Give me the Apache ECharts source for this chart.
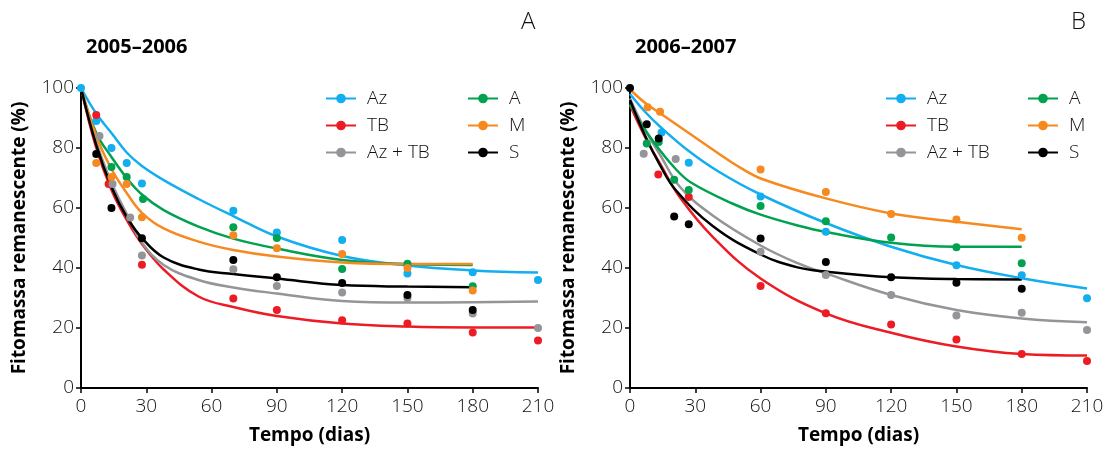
<!DOCTYPE html>
<html>
<head>
<meta charset="utf-8">
<script src="https://cdn.jsdelivr.net/npm/echarts@6/dist/echarts.min.js"></script>
<style>
  html, body { margin: 0; padding: 0; background: #fff; }
  #chart { width: 1118px; height: 450px; }
</style>
</head>
<body>
<div id="chart"></div>
<script>
// tratamentos e cores
const names = ['Az', 'TB', 'Az + TB', 'A', 'M', 'S']
const colors = ['#12aeef', '#ed1c24', '#939598', '#00a24f', '#f6891f', '#000000']
const xTicks = [0, 30, 60, 90, 120, 150, 180, 210]
const yTicks = [0, 20, 40, 60, 80, 100]

// 2005–2006: pontos observados [dia, %]
const dotsA_Az = [[0, 100], [7, 89], [14, 80], [21, 75], [28, 68.2], [70, 59.1], [90, 51.8], [120, 49.3], [150, 38.2], [180, 38.6], [210, 36]]
const dotsA_TB = [[7, 91], [12.7, 68], [28, 41.1], [70, 29.8], [90, 26], [120, 22.6], [150, 21.5], [180, 18.5], [210, 15.8]]
const dotsA_AzTB = [[8.5, 84], [14.5, 68], [22.6, 56.8], [28, 44.2], [70, 39.6], [90, 34], [120, 31.8], [150, 30], [180, 24.8], [210, 20]]
const dotsA_A = [[14, 73.7], [21, 70.3], [28.5, 63], [70, 53.6], [90, 50], [120, 39.7], [150, 41.4], [180, 33.9]]
const dotsA_M = [[7, 75], [14, 70.3], [21, 68], [28, 56.9], [70, 50.9], [90, 46.6], [120, 44.7], [150, 40], [180, 32.5]]
const dotsA_S = [[7, 78], [14, 60], [28, 49.9], [70, 42.7], [90, 36.9], [120, 35], [150, 31], [180, 26]]

// 2005–2006: curvas ajustadas
const curveA_Az = [[0, 100], [7, 91.5], [14, 85], [21, 78.5], [28, 74], [38, 69.3], [54, 63], [70, 57.3], [90, 50.5], [120, 44], [150, 40.8], [180, 39.2], [210, 38.5]]
const curveA_TB = [[0, 100], [7, 80], [14, 66], [21, 56], [28, 48], [38, 39.5], [54, 30.5], [70, 27], [90, 24], [120, 21.5], [150, 20.5], [180, 20.2], [210, 20.2]]
const curveA_AzTB = [[0, 100], [7, 82], [14, 68.5], [21, 58], [28, 48.5], [38, 41], [54, 36], [70, 33.5], [90, 31.5], [120, 29], [150, 28.5], [180, 28.6], [210, 28.8]]
const curveA_A = [[0, 100], [7, 85], [14, 77], [21, 70], [28, 64.5], [38, 59.3], [54, 53.8], [70, 49.8], [90, 46.5], [120, 42.7], [150, 41.3], [180, 41]]
const curveA_M = [[0, 100], [7, 84], [14, 73], [21, 65], [28, 58.4], [38, 53.2], [54, 48.8], [70, 46], [90, 43.8], [120, 41.8], [150, 41.3], [180, 41.3]]
const curveA_S = [[0, 100], [7, 81], [14, 67], [21, 57], [28, 50], [38, 43.5], [54, 39.5], [70, 38], [90, 36.5], [120, 34.3], [150, 33.8], [180, 33.6]]

// 2006–2007: pontos observados
const dotsB_Az = [[14.5, 85.2], [27, 75.1], [60, 63.8], [90, 52.1], [150, 40.9], [180, 37.6], [210, 29.9]]
const dotsB_TB = [[13, 71.2], [27, 63.7], [60, 34], [90, 24.9], [120, 21.2], [150, 16.2], [180, 11.3], [210, 9]]
const dotsB_AzTB = [[6.3, 78.1], [21, 76.3], [60, 45.4], [90, 37.7], [120, 31], [150, 24.2], [180, 25.1], [210, 19.3]]
const dotsB_A = [[7.7, 81.5], [13.2, 82], [20.3, 69.4], [27, 66], [60, 60.7], [90, 55.6], [120, 50.2], [150, 46.9], [180, 41.6]]
const dotsB_M = [[8.1, 93.6], [13.8, 92.1], [60, 72.8], [90, 65.3], [120, 58], [150, 56.2], [180, 50.1]]
const dotsB_S = [[0, 100], [7.7, 87.9], [13.2, 83.2], [20.3, 57.2], [27, 54.6], [60, 49.8], [90, 42], [120, 36.9], [150, 35.1], [180, 33.1]]

// 2006–2007: curvas ajustadas
const curveB_Az = [[0, 98], [7, 92], [14, 87], [27, 79], [41, 72], [60, 64.5], [90, 55], [120, 47.1], [150, 41], [180, 36.6], [210, 33.2]]
const curveB_TB = [[0, 94.3], [7, 83.5], [14, 74.5], [23, 63.5], [38, 50.4], [60, 36.5], [90, 24.9], [120, 18.4], [150, 13.8], [180, 11.3], [210, 10.8]]
const curveB_AzTB = [[0, 96.5], [7, 86], [14, 77.5], [23, 67], [38, 57.5], [60, 47.5], [77, 41.6], [90, 38.2], [120, 31], [150, 26], [180, 23.2], [210, 21.9]]
const curveB_A = [[0, 94.5], [7, 86], [14, 79], [21, 73], [28, 68.5], [47, 61.5], [60, 57.8], [78, 54], [90, 52], [120, 48.4], [150, 47.1], [180, 47.1]]
const curveB_M = [[0, 99.5], [7, 95], [14, 91.5], [26, 85.5], [41, 78], [51, 73.3], [61, 69.6], [90, 63.2], [120, 58.2], [150, 55.4], [180, 52.9]]
const curveB_S = [[0, 96], [7, 84], [14, 74], [21, 66], [38, 54], [60, 44.5], [77, 40.2], [90, 38.8], [120, 36.9], [150, 36.3], [180, 36.2]]

const dotsA = [dotsA_Az, dotsA_TB, dotsA_AzTB, dotsA_A, dotsA_M, dotsA_S]
const curvesA = [curveA_Az, curveA_TB, curveA_AzTB, curveA_A, curveA_M, curveA_S]
const dotsB = [dotsB_Az, dotsB_TB, dotsB_AzTB, dotsB_A, dotsB_M, dotsB_S]
const curvesB = [curveB_Az, curveB_TB, curveB_AzTB, curveB_A, curveB_M, curveB_S]

const FONT = "'Open Sans', 'Noto Sans', sans-serif"
const chart = echarts.init(document.getElementById('chart'), null, { renderer: 'canvas' })

function makeAxes(i) {
  const common = {
    gridIndex: i,
    min: 0,
    axisLine: { lineStyle: { color: '#000', width: 2 } },
    axisTick: { show: true, length: 5, lineStyle: { color: '#000', width: 1.5 } },
    splitLine: { show: false },
    axisLabel: { fontSize: 19, color: '#111', fontFamily: FONT, fontWeight: 300 },
    nameLocation: 'middle',
    nameTextStyle: { fontSize: 19, fontWeight: 'bold', color: '#000', fontFamily: FONT }
  }
  return {
    x: { ...common, type: 'value', max: 210, interval: 30, name: 'Tempo (dias)', nameGap: 38,
      axisLabel: { ...common.axisLabel, margin: 9 } },
    y: { ...common, type: 'value', max: 100, interval: 20, name: 'Fitomassa remanescente (%)', nameGap: 52,
      axisLabel: { ...common.axisLabel, margin: 7 } }
  }
}

const axA = makeAxes(0)
const axB = makeAxes(1)

const series = []
// linhas primeiro (os ícones da legenda vêm da primeira série com o nome)
;[curvesA, curvesB].forEach((curves, p) => {
  curves.forEach((c, k) => {
    series.push({
      name: names[k], type: 'line', xAxisIndex: p, yAxisIndex: p,
      data: c, smooth: 0.4,
      symbol: 'circle', symbolSize: 11, showSymbol: false,
      lineStyle: { color: colors[k], width: 2.5 },
      itemStyle: { color: colors[k] },
      z: 2
    })
  })
})
;[dotsA, dotsB].forEach((dots, p) => {
  dots.forEach((d, k) => {
    series.push({
      name: names[k], type: 'scatter', xAxisIndex: p, yAxisIndex: p,
      data: d, symbolSize: 8,
      itemStyle: { color: colors[k], opacity: 1 },
      z: 3
    })
  })
})

function legend(left, data) {
  return {
    data, orient: 'vertical', left, top: 84,
    itemWidth: 30, itemHeight: 12, itemGap: 8,
    textStyle: { fontSize: 19, color: '#111', fontFamily: FONT, fontWeight: 300, padding: [0, 0, 0, 6] },
    selectedMode: false
  }
}

chart.setOption({
  animation: false,
  backgroundColor: '#fff',
  title: [
    { text: '2005–2006', left: 81, top: 32, textStyle: { fontSize: 20, fontWeight: 'bold', color: '#000', fontFamily: FONT } },
    { text: '2006–2007', left: 630, top: 32, textStyle: { fontSize: 20, fontWeight: 'bold', color: '#000', fontFamily: FONT } },
    { text: 'A', left: 516, top: 5, textStyle: { fontSize: 24, fontWeight: 300, color: '#111', fontFamily: FONT } },
    { text: 'B', left: 1066, top: 5, textStyle: { fontSize: 24, fontWeight: 300, color: '#111', fontFamily: FONT } }
  ],
  legend: [
    legend(320, ['Az', 'TB', 'Az + TB']),
    legend(462, ['A', 'M', 'S']),
    legend(880, ['Az', 'TB', 'Az + TB']),
    legend(1022, ['A', 'M', 'S'])
  ],
  grid: [
    { left: 81, top: 88, width: 457, height: 300 },
    { left: 630, top: 88, width: 457, height: 300 }
  ],
  xAxis: [axA.x, axB.x],
  yAxis: [axA.y, axB.y],
  series
})
</script>
</body>
</html>
